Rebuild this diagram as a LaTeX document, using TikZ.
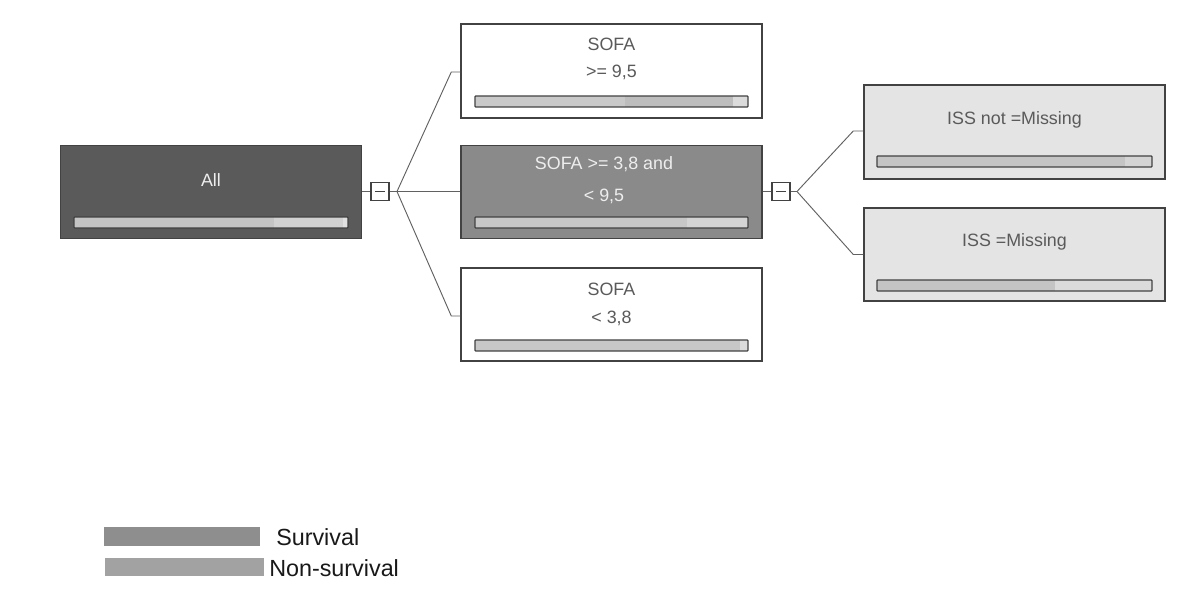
\documentclass[tikz,border=0pt]{standalone}
\usepackage{fontspec}
\setmainfont{Liberation Sans}
\usetikzlibrary{calc}
\definecolor{bordc}{HTML}{424242}
\definecolor{darkfill}{HTML}{5A5A5A}
\definecolor{midfill}{HTML}{8A8A8A}
\definecolor{lightfill}{HTML}{E4E4E4}
\definecolor{txtgray}{HTML}{5A5A5A}
\definecolor{wtxt}{HTML}{EEEEEE}
\definecolor{survc}{HTML}{8E8E8E}
\definecolor{nonsc}{HTML}{A2A2A2}
\begin{document}
\begin{tikzpicture}[x=0.75pt,y=-0.75pt,
  box/.style={draw=bordc, line width=1.1pt, rectangle, inner sep=0pt, minimum width=225.75pt, minimum height=69.5pt},
  lbl/.style={font=\fontsize{13.4}{15}\selectfont, text=txtgray, inner sep=0pt},
  wlbl/.style={lbl, text=wtxt},
  toggle/.style={draw=bordc, fill=white, rectangle, inner sep=0pt, minimum width=13.5pt, minimum height=14pt, line width=0.8pt},
  link/.style={draw=black!62, line width=0.7pt},
  barline/.style={draw=bordc, line width=0.9pt, rounded corners=0.6pt},
  legtxt/.style={font=\fontsize{17.5}{20}\selectfont, text=black!90, inner sep=0pt, anchor=west},
  legbar/.style={rectangle, inner sep=0pt, minimum height=14pt}
]
\useasboundingbox (0,0) rectangle (1200,607);
\fill[white] (0,0) rectangle (1200,607);

% boxes
\node[box, fill=darkfill] (all) at (211,192) {};
\node[box, fill=white, minimum height=70.5pt] (s1) at (611.5,71) {};
\node[box, fill=midfill] (s2) at (611.5,192) {};
\node[box, fill=white] (s3) at (611.5,314.5) {};
\node[box, fill=lightfill, minimum height=70.5pt] (i1) at (1014.5,132) {};
\node[box, fill=lightfill] (i2) at (1014.5,254.5) {};

% labels
\node[wlbl] (allt) at (211,180) {All};
\node[lbl] (s1a) at (611.5,44.5) {SOFA};
\node[lbl] (s1b) at (611.5,72) {>= 9,5};
\node[wlbl] (s2a) at (604,164.5) {SOFA >= 3,8 and};
\node[wlbl] (s2b) at (604,196) {< 9,5};
\node[lbl] (s3a) at (611.5,289.5) {SOFA};
\node[lbl] (s3b) at (611.5,318) {< 3,8};
\node[lbl] (i1t) at (1014.5,120) {ISS not =Missing};
\node[lbl] (i2t) at (1014.5,242) {ISS =Missing};

% bars
\fill[black!23] (74,217) rectangle (274,228);
\fill[black!18] (274,217) rectangle (343,228);
\fill[black!12] (343,217) rectangle (348,228);
\draw[barline] (74,217) rectangle (348,228);

\fill[black!21] (475,96) rectangle (625,107);
\fill[black!26] (625,96) rectangle (733,107);
\fill[black!14] (733,96) rectangle (748,107);
\draw[barline] (475,96) rectangle (748,107);

\fill[black!22] (475,217) rectangle (687,228);
\fill[black!17] (687,217) rectangle (748,228);
\draw[barline] (475,217) rectangle (748,228);

\fill[black!22] (475,340) rectangle (740,351);
\fill[black!14] (740,340) rectangle (748,351);
\draw[barline] (475,340) rectangle (748,351);

\fill[black!23] (877,156) rectangle (1125,167);
\fill[black!17] (1125,156) rectangle (1152,167);
\draw[barline] (877,156) rectangle (1152,167);

\fill[black!23] (877,280) rectangle (1055,291);
\fill[black!14] (1055,280) rectangle (1152,291);
\draw[barline] (877,280) rectangle (1152,291);

% toggles
\node[toggle] (t1) at (380,191.5) {};
\node[toggle] (t2) at (781,191.5) {};
\draw[bordc, line width=0.8pt] ($(t1.center)+(-5,0)$) -- ($(t1.center)+(5,0)$);
\draw[bordc, line width=0.8pt] ($(t2.center)+(-5,0)$) -- ($(t2.center)+(5,0)$);

\coordinate (f1) at (397,191.5);
\coordinate (f2) at (797,191.5);

% connectors
\draw[link] (all.east |- t1.west) -- (t1.west);
\draw[link] (t1.east) -- (f1);
\draw[link] (f1) -- ($(s1.west)+(-9,1)$) -- ($(s1.west)+(0,1)$);
\draw[link] (f1) -- (s2.west |- f1);
\draw[link] (f1) -- ($(s3.west)+(-9,1.5)$) -- ($(s3.west)+(0,1.5)$);
\draw[link] (s2.east |- t2.west) -- (t2.west);
\draw[link] (t2.east) -- (f2);
\draw[link] (f2) -- ($(i1.west)+(-10,-1)$) -- ($(i1.west)+(0,-1)$);
\draw[link] (f2) -- ($(i2.west)+(-10,0)$) -- (i2.west);

% legend
\node[legbar, fill=survc, minimum width=117pt] (lg1) at (182,536.5) {};
\node[legtxt] (lg1t) at (276,537) {Survival};
\node[legbar, fill=nonsc, minimum width=119.25pt, minimum height=13.5pt] (lg2) at (184.5,567) {};
\node[legtxt] (lg2t) at (269,568) {Non-survival};
\end{tikzpicture}
\end{document}
